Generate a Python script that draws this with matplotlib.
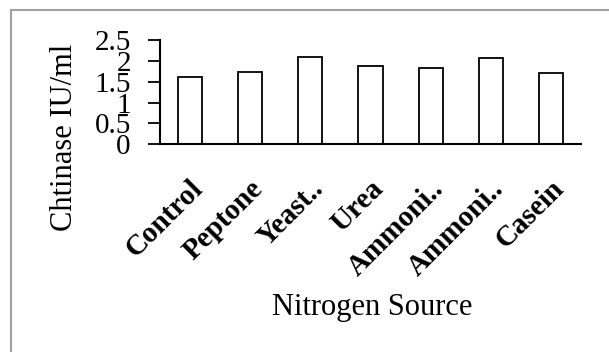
import matplotlib.pyplot as plt
from matplotlib.lines import Line2D
import matplotlib.transforms as mtransforms

# data
sources = ['Control', 'Peptone', 'Yeast..', 'Urea', 'Ammoni..', 'Ammoni..', 'Casein']
chitinase = [1.62, 1.74, 2.10, 1.87, 1.83, 2.07, 1.71]
y_ticks = [0, 0.5, 1, 1.5, 2, 2.5]
y_tick_labels = ['0', '0.5', '1', '1.5', '2', '2.5']

plt.rcParams['font.family'] = ['Liberation Serif', 'DejaVu Serif']

fig = plt.figure(figsize=(6.09, 3.52), dpi=100)
ax = fig.add_axes([160 / 609, 1 - 144.3 / 352, 421 / 609, 104.3 / 352])

x = list(range(len(sources)))
ax.bar(x, chitinase, width=0.4, color='white', edgecolor='black', linewidth=1.3)

ax.set_xlim(-0.5, len(sources) - 0.5)
ax.set_ylim(0, 2.5)
ax.set_yticks(y_ticks)
ax.set_yticklabels(y_tick_labels, fontsize=21)
ax.tick_params(axis='y', direction='out', length=9, width=1.3, pad=12)

ax.set_xticks(x)
ax.set_xticklabels(sources, fontsize=21, fontweight='bold', rotation=45,
                   ha='right', va='center', rotation_mode='anchor')
ax.tick_params(axis='x', length=0, pad=29)
shift = mtransforms.ScaledTranslation(9 / 100, 0, fig.dpi_scale_trans)
for lab in ax.get_xticklabels():
    lab.set_transform(lab.get_transform() + shift)

for side in ['top', 'right']:
    ax.spines[side].set_visible(False)
for side in ['left', 'bottom']:
    ax.spines[side].set_linewidth(1.5)

fig.text(65 / 609, 1 - 137.5 / 352, 'Chtinase IU/ml', rotation=90,
         ha='center', va='center', fontsize=22)
fig.text(372 / 609, 1 - 315 / 352, 'Nitrogen Source', ha='center',
         va='baseline', fontsize=22)

# grey chart-area border (only left and top visible)
bx, by = 11 / 609, 1 - 10 / 352
fig.add_artist(Line2D([bx, bx], [0, by], transform=fig.transFigure,
                      color='#a0a0a0', linewidth=1.5))
fig.add_artist(Line2D([bx, 1], [by, by], transform=fig.transFigure,
                      color='#a0a0a0', linewidth=1.5))

fig.savefig('out.png', dpi=100)
